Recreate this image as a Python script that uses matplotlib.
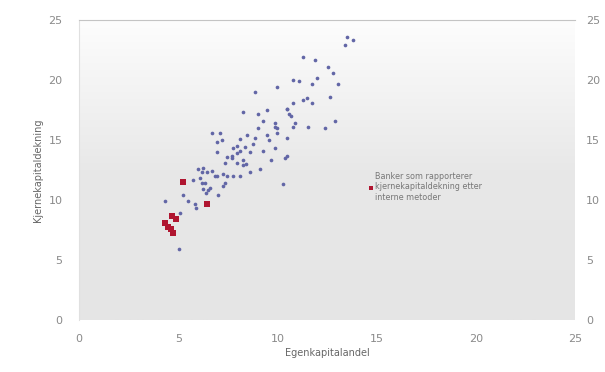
import numpy as np
import matplotlib.pyplot as plt
from matplotlib.colors import LinearSegmentedColormap

# egenkapitalandel (x) and kjernekapitaldekning (y)
blue_x = [4.33, 5.04, 5.24, 5.49, 5.85, 5.75, 6.2, 6.25, 6.5, 7.0, 6.2, 6.0, 6.95, 7.26, 7.46,
          8.1, 7.7, 7.96, 8.27, 6.1, 6.35, 5.1,
          8.27, 8.87, 9.0, 9.5, 9.27, 10.5, 10.7, 10.9, 9.9, 10.0, 6.7, 7.1, 7.2, 6.95, 6.95,
          8.47, 8.87, 8.77, 9.0, 9.47, 9.6, 8.1, 7.96, 7.76, 8.1, 8.37, 8.6, 7.7, 7.46, 7.36,
          7.96, 8.27, 9.27, 9.9, 9.7, 10.4, 10.5, 6.25, 6.45, 6.85, 7.26, 7.76, 8.6, 7.36,
          10.28, 6.7,
          13.5, 13.8, 13.4, 11.3, 11.9, 12.55, 12.8, 12.0, 11.75, 13.05, 10.8, 11.1, 10.0,
          12.65, 11.5, 11.3, 11.75, 10.8, 10.5, 10.6, 12.9, 10.8, 11.55, 12.4, 9.9, 10.0, 10.5,
          6.6, 6.4, 5.9, 9.1, 8.4]
blue_y = [9.95, 5.9, 10.4, 9.9, 9.7, 11.7, 11.4, 10.95, 10.8, 10.4, 12.3, 12.6, 12.0, 11.2, 12.0,
          12.0, 13.5, 13.9, 13.3, 11.8, 11.45, 8.95,
          17.3, 19.0, 17.2, 17.5, 16.6, 17.6, 17.0, 16.4, 16.4, 16.0, 15.55, 15.55, 15.0, 14.8, 14.0,
          15.4, 15.2, 14.7, 16.0, 15.4, 15.0, 15.1, 14.5, 14.3, 14.1, 14.4, 14.0, 13.7, 13.55, 13.1,
          13.1, 12.9, 14.1, 14.3, 13.3, 13.5, 13.7, 12.7, 12.3, 12.0, 12.2, 12.0, 12.3, 11.4,
          11.37, 12.45,
          23.6, 23.3, 22.9, 21.9, 21.65, 21.1, 20.6, 20.2, 19.7, 19.7, 20.0, 19.9, 19.4,
          18.6, 18.5, 18.3, 18.1, 18.1, 17.6, 17.2, 16.6, 16.05, 16.05, 16.0, 16.05, 15.6, 15.2,
          11.0, 10.6, 9.3, 12.6, 13.0]

red_x = [5.24, 6.45, 4.33, 4.69, 4.89, 4.64, 4.74, 4.49]
red_y = [11.54, 9.7, 8.1, 8.7, 8.45, 7.6, 7.27, 7.78]

legend_label = "Banker som rapporterer\nkjernekapitaldekning etter\ninterne metoder"
ticks = [0, 5, 10, 15, 20, 25]

grey = "#8a8a8a"

fig = plt.figure(figsize=(6.05, 3.72), dpi=100)
ax = fig.add_axes([0.1306, 0.1398, 0.8198, 0.8064])

# background: white at top fading to light grey
cmap = LinearSegmentedColormap.from_list("bg", ["#e5e5e5", "#e8e8e8", "#fdfdfd"])
grad = np.linspace(0, 1, 256).reshape(-1, 1)
ax.imshow(grad, extent=[0, 25, 0, 25], origin="lower", aspect="auto", cmap=cmap, zorder=0)

ax.scatter(blue_x, blue_y, s=7, marker="o", color="#6266a6", linewidths=0, zorder=3)
ax.scatter(red_x, red_y, s=13, marker="s", color="#b01530", linewidths=0, zorder=4,
           label=legend_label)

ax.set_xlim(0, 25)
ax.set_ylim(0, 25)
ax.set_xticks(ticks)
ax.set_yticks(ticks)
ax.tick_params(length=0, labelsize=8, labelcolor=grey, pad=12)
ax.tick_params(axis="x", pad=10)

for side in ["right", "bottom"]:
    ax.spines[side].set_visible(False)
ax.spines["top"].set_color("#c4c4c4")
ax.spines["left"].set_color("#e0e0e0")

ax2 = ax.twinx()
ax2.set_ylim(0, 25)
ax2.set_yticks(ticks)
ax2.tick_params(length=0, labelsize=8, labelcolor=grey, pad=8)
for side in ["left", "right", "top", "bottom"]:
    ax2.spines[side].set_visible(False)

ax.set_xlabel("Egenkapitalandel", fontsize=7, color="#666666", labelpad=3)
ax.set_ylabel("Kjernekapitaldekning", fontsize=7, color="#666666", labelpad=4)

ax.legend(loc="upper left", bbox_to_anchor=(0.575, 0.505), frameon=False, fontsize=5.8,
          labelcolor="#777777", handletextpad=0.2, markerscale=0.7, borderaxespad=0,
          handlelength=0.8)

fig.savefig("out.png", dpi=100)
